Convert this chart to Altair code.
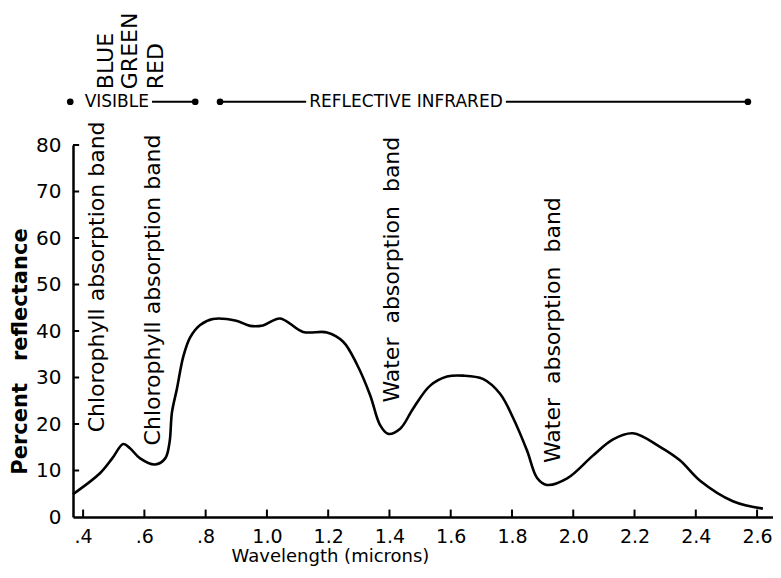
import altair as alt
import pandas as pd

# ---- data ----
wavelength = [0.367, 0.455, 0.495, 0.531, 0.553, 0.586, 0.635, 0.668, 0.682,
              0.69, 0.706, 0.727, 0.749, 0.782, 0.824, 0.9, 0.945, 0.987,
              1.043, 1.118, 1.196, 1.249, 1.294, 1.337, 1.369, 1.395, 1.435, 1.477,
              1.532, 1.588, 1.64, 1.705, 1.761, 1.803, 1.849, 1.882, 1.914, 1.98,
              2.064, 2.13, 2.195, 2.283, 2.348, 2.414, 2.521, 2.619]
reflectance = [4.9, 9.4, 12.6, 15.7, 14.8, 12.6, 11.3, 12.6, 16.0,
               22.5, 27.5, 34.5, 38.6, 41.3, 42.6, 42.2, 41.1, 41.2,
               42.7, 39.8, 39.7, 37.7, 32.8, 26.2, 19.8, 17.9, 19.0, 23.3,
               28.2, 30.2, 30.4, 29.7, 26.5, 21.4, 14.3, 8.4, 6.9, 8.3,
               13.2, 16.7, 18.0, 15.1, 12.2, 7.8, 3.4, 1.8]

x_ticks = [0.4, 0.6, 0.8, 1.0, 1.2, 1.4, 1.6, 1.8, 2.0, 2.2, 2.4, 2.6]
y_ticks = [0, 10, 20, 30, 40, 50, 60, 70, 80]

NB = "\u00a0"
band_labels = ["Chlorophyll absorption band", "Chlorophyll absorption band",
               f"Water{NB} absorption{NB} band", f"Water{NB} absorption{NB} band"]
band_x = [0.446, 0.628, 1.408, 1.934]
band_y = [18.2, 15.4, 24.6, 11.6]

colour_labels = ["BLUE", "GREEN", "RED"]
colour_x = [0.474, 0.552, 0.637]
colour_y = [92.0, 92.0, 92.0]

region_labels = ["VISIBLE", "REFLECTIVE INFRARED"]
region_x = [0.51, 1.454]
region_y = [89.3, 89.3]

arrow_x1 = [0.625, 0.847, 1.78]
arrow_x2 = [0.766, 1.128, 2.57]
arrow_y = [89.3, 89.3, 89.3]
dot_x = [0.358, 0.766, 0.847, 2.57]
dot_y = [89.3, 89.3, 89.3, 89.3]

X_DOMAIN = [0.367, 2.652]
Y_DOMAIN = [0, 80]
FONT = "DejaVu Sans"

curve_df = pd.DataFrame({"wl": wavelength, "r": reflectance})
band_df = pd.DataFrame({"label": band_labels, "x": band_x, "y": band_y})
colour_df = pd.DataFrame({"label": colour_labels, "x": colour_x, "y": colour_y})
region_df = pd.DataFrame({"label": region_labels, "x": region_x, "y": region_y})
arrow_df = pd.DataFrame({"x": arrow_x1, "x2": arrow_x2, "y": arrow_y})
dot_df = pd.DataFrame({"x": dot_x, "y": dot_y})
xtick_df = pd.DataFrame({"x": x_ticks, "y": [0] * len(x_ticks), "y2": [1.6] * len(x_ticks)})
ytick_df = pd.DataFrame({"y": y_ticks[1:], "x": [X_DOMAIN[0]] * (len(y_ticks) - 1),
                         "x2": [X_DOMAIN[0] + 0.02] * (len(y_ticks) - 1)})

xscale = alt.Scale(domain=X_DOMAIN, nice=False, zero=False)
yscale = alt.Scale(domain=Y_DOMAIN, nice=False)

label_expr = "datum.value < 1 ? replace(format(datum.value, '.1f'), '0.', '.') : format(datum.value, '.1f')"

curve = alt.Chart(curve_df).mark_line(
    interpolate="catmull-rom", color="black", strokeWidth=2.6
).encode(
    x=alt.X("wl:Q", scale=xscale,
            axis=alt.Axis(values=x_ticks, labelExpr=label_expr, ticks=False,
                          labelPadding=10, labelFontSize=19, labelFont=FONT,
                          title="Wavelength (microns)", titleFont=FONT,
                          titleFontSize=18, titleFontWeight="normal",
                          titleX=257, titleY=39, titleAlign="center",
                          titleBaseline="middle", grid=False)),
    y=alt.Y("r:Q", scale=yscale,
            axis=alt.Axis(values=y_ticks, ticks=False, labelPadding=12,
                          labelFontSize=20, labelFont=FONT,
                          title=f"Percent{NB}{NB} reflectance", titleFont=FONT,
                          titleFontSize=21, titleFontWeight="bold",
                          titleAngle=270, titleX=-53, titleY=206,
                          titleAlign="center", titleBaseline="middle", grid=False)),
)

xticks = alt.Chart(xtick_df).mark_rule(color="black", strokeWidth=2).encode(
    x=alt.X("x:Q", scale=xscale), y=alt.Y("y:Q", scale=yscale), y2="y2:Q")
yticks = alt.Chart(ytick_df).mark_rule(color="black", strokeWidth=2).encode(
    y=alt.Y("y:Q", scale=yscale), x=alt.X("x:Q", scale=xscale), x2="x2:Q")

bands = alt.Chart(band_df).mark_text(
    angle=270, align="left", baseline="middle", fontSize=22, font=FONT, color="black"
).encode(x=alt.X("x:Q", scale=xscale), y=alt.Y("y:Q", scale=yscale), text="label:N")

colours = alt.Chart(colour_df).mark_text(
    angle=270, align="left", baseline="middle", fontSize=22, font=FONT, color="black"
).encode(x=alt.X("x:Q", scale=xscale), y=alt.Y("y:Q", scale=yscale), text="label:N")

regions = alt.Chart(region_df).mark_text(
    align="center", baseline="middle", fontSize=17, font=FONT, color="black"
).encode(x=alt.X("x:Q", scale=xscale), y=alt.Y("y:Q", scale=yscale), text="label:N")

arrows = alt.Chart(arrow_df).mark_rule(color="black", strokeWidth=2).encode(
    x=alt.X("x:Q", scale=xscale), x2="x2:Q", y=alt.Y("y:Q", scale=yscale))

dots = alt.Chart(dot_df).mark_point(
    shape="circle", filled=True, size=45, color="black", opacity=1
).encode(x=alt.X("x:Q", scale=xscale), y=alt.Y("y:Q", scale=yscale))

chart = alt.layer(curve, xticks, yticks, bands, colours, regions, arrows, dots).properties(
    width=700, height=372,
    autosize=alt.AutoSizeParams(type="none"),
    padding={"left": 65, "top": 137, "right": 0, "bottom": 52},
    background="white",
).configure_view(stroke=None).configure_axis(
    domainColor="black", domainWidth=2.5, labelColor="black", titleColor="black"
)

chart.save("out.html", embed_options={"renderer": "svg", "actions": False})
